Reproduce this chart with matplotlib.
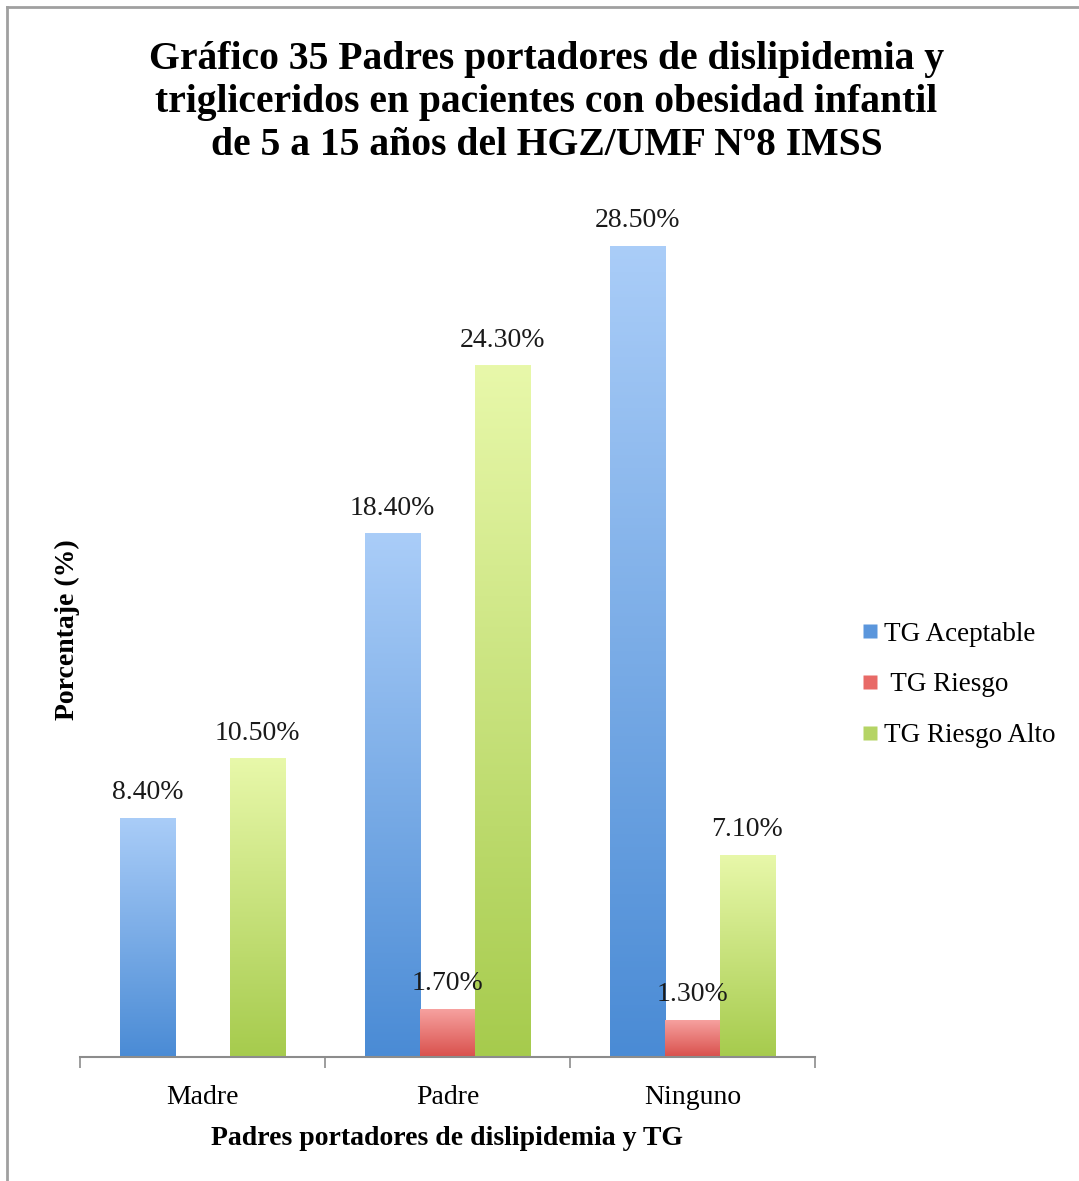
import numpy as np
import matplotlib
matplotlib.use("Agg")
import matplotlib.pyplot as plt
from matplotlib.colors import LinearSegmentedColormap
from matplotlib.lines import Line2D

# Data
categories = ["Madre", "Padre", "Ninguno"]
series_names = ["TG Aceptable", " TG Riesgo", "TG Riesgo Alto"]
tg_aceptable = [8.4, 18.4, 28.5]
tg_riesgo = [0.0, 1.7, 1.3]
tg_riesgo_alto = [10.5, 24.3, 7.1]
value_labels = [
    ["8.40%", "18.40%", "28.50%"],
    [None, "1.70%", "1.30%"],
    ["10.50%", "24.30%", "7.10%"],
]

title = ("Gráfico 35 Padres portadores de dislipidemia y\n"
         "trigliceridos en pacientes con obesidad infantil\n"
         "de 5 a 15 años del HGZ/UMF Nº8 IMSS")
xlabel = "Padres portadores de dislipidemia y TG"
ylabel = "Porcentaje (%)"

# Gradient colours (top, bottom) and legend swatch colour per series
gradients = [("#aacdf8", "#4a8bd5"), ("#f7a3a1", "#d9504c"), ("#e8f8aa", "#a6cb4d")]
swatches = ["#5b96dc", "#e86a67", "#b5d465"]

plt.rcParams["font.family"] = ["Liberation Serif", "DejaVu Serif"]

fig = plt.figure(figsize=(10.79, 11.81), dpi=100)
ax = fig.add_axes([0.0741, 0.105, 0.6812, 0.723])

series = [tg_aceptable, tg_riesgo, tg_riesgo_alto]
x = np.arange(len(categories))
width = 0.2245
offsets = [-width, 0.0, width]

grad = np.linspace(0, 1, 256).reshape(-1, 1)
for s, (vals, (ctop, cbot), off) in enumerate(zip(series, gradients, offsets)):
    cmap = LinearSegmentedColormap.from_list(f"g{s}", [cbot, ctop])
    bars = ax.bar(x + off, vals, width=width, color="none", edgecolor="none")
    for b, v, lab in zip(bars, vals, value_labels[s]):
        if v > 0:
            x0, w, h = b.get_x(), b.get_width(), b.get_height()
            im = ax.imshow(grad, cmap=cmap, aspect="auto", origin="lower",
                           extent=[x0, x0 + w, 0, h], zorder=2,
                           interpolation="bilinear")
            im.set_clip_path(b)
        if lab is not None:
            ax.annotate(lab, (b.get_x() + b.get_width() / 2, v),
                        xytext=(0, 9), textcoords="offset points",
                        ha="center", va="bottom", fontsize=20, color="#1a1a1a",
                        zorder=3)

ax.set_xlim(-0.5, 2.5)
ax.set_ylim(0, 30)

for sp in ["top", "right", "left"]:
    ax.spines[sp].set_visible(False)
ax.spines["bottom"].set_color("#8c8c8c")
ax.spines["bottom"].set_linewidth(1.5)
ax.set_yticks([])
ax.set_xticks([-0.5, 0.5, 1.5, 2.5], minor=False)
ax.set_xticklabels([])
ax.tick_params(axis="x", which="major", length=8, width=1.2, color="#8c8c8c",
               direction="out")
ax.set_xticks(x, minor=True)
ax.set_xticklabels(categories, minor=True, fontsize=20)
ax.tick_params(axis="x", which="minor", length=0, pad=20)

ax.set_xlabel(xlabel, fontsize=20, fontweight="bold", labelpad=12)
ax.set_ylabel(ylabel, fontsize=20, fontweight="bold", labelpad=0)

fig.text(0.5065, 0.9655, title, ha="center", va="top", fontsize=28.5,
         fontweight="bold", linespacing=1.22)

handles = [Line2D([0], [0], marker="s", linestyle="none", markersize=10,
                  markerfacecolor=c, markeredgecolor="none") for c in swatches]
fig.legend(handles, series_names, loc="center left",
           bbox_to_anchor=(0.774, 0.42), frameon=False, fontsize=19.5,
           handletextpad=0.1, labelspacing=0.95, handlelength=0.8)

# outer frame
fig.add_artist(Line2D([6.5 / 1079, 6.5 / 1079], [0, 1 - 6.5 / 1181],
                      transform=fig.transFigure, color="#a0a0a0", lw=2))
fig.add_artist(Line2D([6.5 / 1079, 1], [1 - 6.5 / 1181, 1 - 6.5 / 1181],
                      transform=fig.transFigure, color="#a0a0a0", lw=2))

fig.savefig("out.png", dpi=100, facecolor="white")
